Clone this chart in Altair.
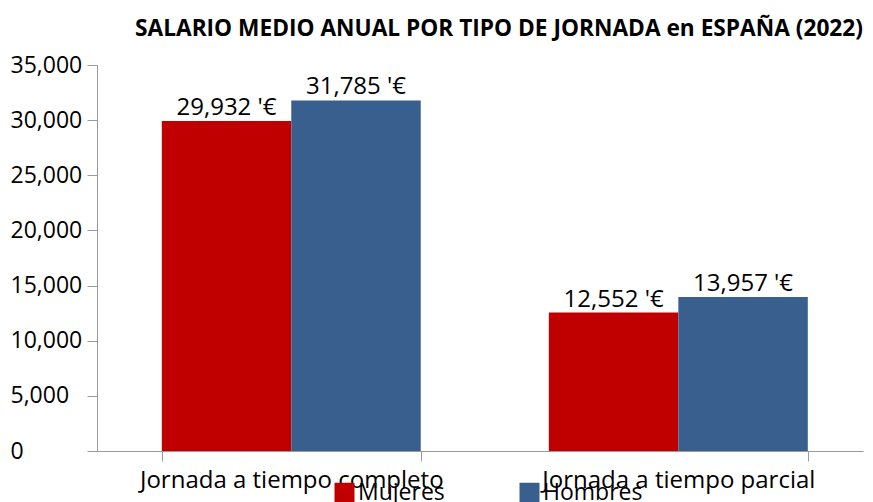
import altair as alt
import pandas as pd

categories = ["Jornada a tiempo completo", "Jornada a tiempo parcial"]
series = ["Mujeres", "Hombres"]
mujeres = [29932, 12552]
hombres = [31785, 13957]
colors = ["#C00000", "#395F8F"]

rows = []
for i, c in enumerate(categories):
    rows.append({"cat": c, "sexo": "Mujeres", "v": mujeres[i]})
    rows.append({"cat": c, "sexo": "Hombres", "v": hombres[i]})
df = pd.DataFrame(rows)

FONT = "Open Sans"

x = alt.X("cat:N", sort=categories, title=None,
          scale=alt.Scale(paddingInner=0.331, paddingOuter=0.155, align=0.54),
          axis=alt.Axis(labelAngle=0, labelFontSize=24, labelColor="black", labelFont=FONT,
                        domainColor="#9a9a9a", tickColor="#9a9a9a", tickSize=10,
                        tickBand="extent", labelPadding=7, labelLimit=400))
xo = alt.XOffset("sexo:N", sort=series)
y = alt.Y("v:Q", title=None,
          scale=alt.Scale(domain=[0, 35000], nice=False),
          axis=alt.Axis(values=[0, 5000, 10000, 15000, 20000, 25000, 30000, 35000],
                        format=",d", grid=False, labelFontSize=23, labelColor="black",
                        labelFont=FONT, labelAlign="left", labelPadding=77, tickSize=10,
                        domainColor="#9a9a9a", tickColor="#9a9a9a"))

color = alt.Color("sexo:N", sort=series, title=None,
                  scale=alt.Scale(domain=series, range=colors),
                  legend=alt.Legend(orient="none", legendX=236, legendY=416, direction="horizontal",
                                    symbolType="square", symbolSize=400, symbolStrokeWidth=0,
                                    labelFontSize=23, labelFont=FONT, labelColor="black",
                                    columnPadding=73, labelOffset=2, padding=0))

bars = alt.Chart(df).mark_bar().encode(x=x, xOffset=xo, y=y, color=color)
labels = alt.Chart(df).transform_calculate(
    lbl="format(datum.v, ',d') + \" '€\""
).mark_text(fontSize=24, font=FONT, color="black", baseline="alphabetic", dy=-6).encode(
    x=x, xOffset=xo, y=y, text="lbl:N")

chart = alt.layer(bars, labels).properties(
    width=766, height=386,
    background="white",
    padding={"left": 89, "top": 57, "right": 2, "bottom": 60},
    autosize=alt.AutoSizeParams(type="none"),
    title=alt.Title("SALARIO MEDIO ANUAL POR TIPO DE JORNADA en ESPAÑA (2022)",
                    anchor="end", fontSize=22.7, font=FONT, fontWeight="bold", color="black", offset=13),
).configure_view(stroke="transparent", strokeWidth=0)

chart.save("out.html", embed_options={"renderer": "svg", "actions": False})
